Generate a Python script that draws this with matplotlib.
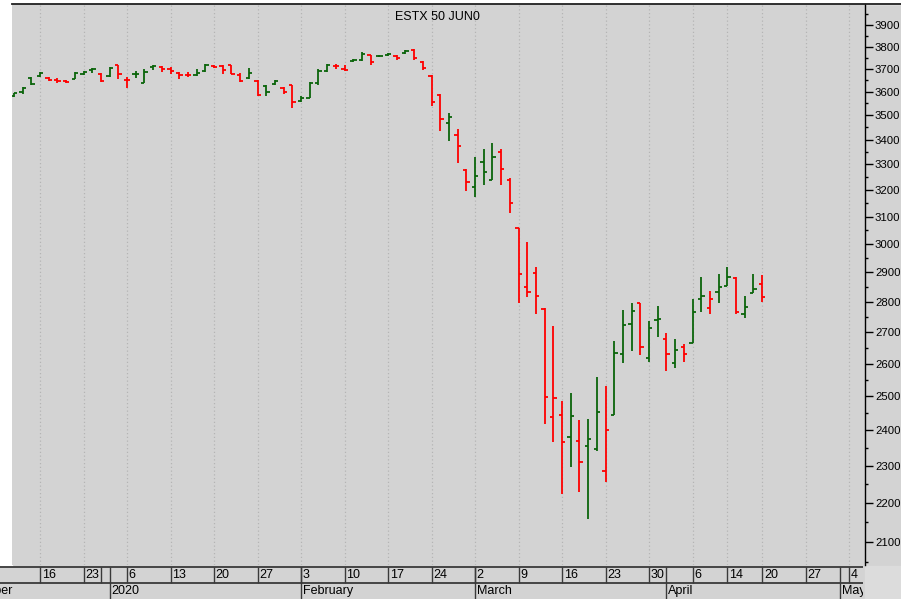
import numpy as np
import pandas as pd
import matplotlib
matplotlib.use('Agg')
import matplotlib.pyplot as plt
from matplotlib.patches import Rectangle
from matplotlib.lines import Line2D
from matplotlib.ticker import FixedLocator, FixedFormatter, NullFormatter

plt.rcParams['font.family'] = ['Liberation Sans', 'DejaVu Sans']

title = 'ESTX 50 JUN0'

# trading calendar of the time axis (Eurex holidays taken out)
holidays = ['2019-12-24', '2019-12-25', '2019-12-26', '2019-12-31',
            '2020-01-01', '2020-04-10', '2020-04-13']
calendar = pd.bdate_range('2019-12-02', '2020-05-08').drop(pd.to_datetime(holidays))

first_bar = '2019-12-11'

# daily OHLC
opens = [3582, 3598, 3660, 3668, 3661, 3650, 3645, 3657, 3678, 3695,
         3678, 3668, 3716, 3652, 3676, 3640, 3708, 3710, 3700, 3680,
         3675, 3672, 3692, 3712, 3714, 3716, 3675, 3659, 3648, 3627,
         3635, 3618, 3628, 3560, 3575, 3640, 3690, 3712, 3700, 3734,
         3738, 3760, 3756, 3763, 3758, 3770, 3786, 3730, 3670, 3588,
         3468, 3419, 3280, 3213, 3311, 3239, 3349, 3238, 3057, 2851,
         2898, 2775, 2440, 2446, 2381, 2370, 2356, 2347, 2286, 2446,
         2629, 2726, 2795, 2618, 2739, 2678, 2603, 2651, 2664, 2808,
         2778, 2833, 2854, 2880, 2760, 2830, 2859]
highs = [3596, 3622, 3663, 3685, 3663, 3659, 3651, 3685, 3691, 3703,
         3681, 3710, 3718, 3663, 3692, 3698, 3718, 3713, 3707, 3688,
         3685, 3698, 3722, 3718, 3718, 3718, 3681, 3703, 3651, 3630,
         3651, 3622, 3630, 3582, 3644, 3698, 3721, 3721, 3718, 3744,
         3777, 3762, 3762, 3770, 3762, 3785, 3788, 3735, 3673, 3591,
         3509, 3442, 3281, 3329, 3362, 3385, 3362, 3246, 3057, 3009,
         2920, 2778, 2720, 2486, 2511, 2430, 2433, 2559, 2531, 2671,
         2772, 2797, 2797, 2737, 2786, 2696, 2677, 2662, 2809, 2883,
         2837, 2895, 2920, 2883, 2819, 2895, 2891]
lows = [3579, 3591, 3630, 3663, 3648, 3640, 3637, 3654, 3673, 3681,
        3644, 3666, 3654, 3615, 3659, 3637, 3695, 3685, 3678, 3654,
        3664, 3669, 3688, 3703, 3676, 3676, 3644, 3654, 3583, 3583,
        3630, 3591, 3530, 3558, 3572, 3630, 3685, 3701, 3691, 3732,
        3735, 3718, 3752, 3759, 3740, 3767, 3740, 3695, 3541, 3436,
        3394, 3305, 3197, 3173, 3220, 3239, 3220, 3113, 2795, 2817,
        2759, 2418, 2366, 2223, 2296, 2229, 2158, 2343, 2257, 2445,
        2601, 2640, 2627, 2604, 2683, 2578, 2585, 2604, 2664, 2766,
        2759, 2795, 2853, 2759, 2745, 2828, 2800]
closes = [3594, 3618, 3634, 3682, 3652, 3645, 3642, 3682, 3688, 3700,
          3646, 3706, 3676, 3650, 3678, 3686, 3712, 3700, 3692, 3675,
          3672, 3680, 3716, 3710, 3695, 3678, 3648, 3683, 3586, 3600,
          3645, 3600, 3556, 3575, 3640, 3690, 3718, 3711, 3696, 3740,
          3768, 3730, 3758, 3766, 3748, 3780, 3750, 3702, 3558, 3485,
          3495, 3374, 3230, 3254, 3271, 3329, 3282, 3150, 2893, 2833,
          2819, 2497, 2494, 2367, 2443, 2312, 2376, 2454, 2401, 2632,
          2722, 2770, 2652, 2712, 2743, 2629, 2643, 2629, 2767, 2819,
          2808, 2851, 2883, 2767, 2783, 2842, 2815]

month_names = ['December', '2020', 'February', 'March', 'April', 'May']

y_major = list(range(2100, 4000, 100))
y_minor = list(range(2050, 4000, 100))

W, H = 901, 599
fig = plt.figure(figsize=(W / 100, H / 100), dpi=100)
fig.patch.set_facecolor('#d3d3d3')

# white margin on the left and top, lighter corner bottom right
fig.add_artist(Rectangle((0, 34 / H), 12 / W, 1, transform=fig.transFigure,
                         color='white', zorder=-1))
fig.add_artist(Rectangle((0, 1 - 4 / H), 1, 4 / H, transform=fig.transFigure,
                         color='white', zorder=-1))
fig.add_artist(Rectangle((865 / W, 0), 36 / W, 33 / H, transform=fig.transFigure,
                         color='#dcdcdc', zorder=-1))

ax = fig.add_axes([12 / W, 34 / H, 853 / W, 561 / H])
ax.set_facecolor('#d3d3d3')

pos = {d: i for i, d in enumerate(calendar)}
bar_dates = calendar[calendar >= pd.Timestamp(first_bar)][:len(opens)]
x = np.array([pos[d] for d in bar_dates], dtype=float)
o = np.array(opens); h = np.array(highs); l = np.array(lows); c = np.array(closes)
prev = np.concatenate([[o[0]], c[:-1]])
cols = np.where(c >= prev, '#0b650b', '#ff0000')

lw = 1.3
ax.vlines(x, l, h, colors=cols, lw=lw)
ax.hlines(o, x - 0.38, x, colors=cols, lw=lw)
ax.hlines(c, x, x + 0.38, colors=cols, lw=lw)

x_left = pos[pd.Timestamp(first_bar)] - 0.22
x_right = x_left + 853 / 8.7

# week starts and month starts
cal = pd.Series(np.arange(len(calendar)), index=calendar)
iso = calendar.isocalendar()
week_first = cal.groupby([iso.year.values, iso.week.values]).min().values
month_first = cal.groupby([calendar.year, calendar.month]).min().values
week_first = [w for w in week_first if w >= x_left]
week_labeled = [w for w in week_first
                if not any(0 < m - w < 2 for m in month_first)]

ax.set_xticks(week_labeled)
ax.tick_params(axis='x', length=0, labelbottom=False)
ax.grid(axis='x', linestyle=(0, (1, 2)), color='#b4b4b4', lw=0.9)
ax.set_axisbelow(True)
ax.set_xlim(x_left, x_right)

ax.set_yscale('log')
ax.set_ylim(2043, 3999)
ax.yaxis.tick_right()
ax.yaxis.set_major_locator(FixedLocator(y_major))
ax.yaxis.set_major_formatter(FixedFormatter([str(v) for v in y_major]))
ax.yaxis.set_minor_locator(FixedLocator(y_minor))
ax.yaxis.set_minor_formatter(NullFormatter())
ax.tick_params(axis='y', which='major', length=5.4, width=1, pad=1.8,
               labelsize=8.2, colors='black')
ax.tick_params(axis='y', which='minor', length=2.3, width=1)
for s in ['left', 'bottom', 'top']:
    ax.spines[s].set_visible(False)
ax.spines['right'].set_linewidth(1)

fig.add_artist(Line2D([12 / W, 1], [1 - 4 / H, 1 - 4 / H], transform=fig.transFigure,
                      color='#202020', lw=1.3))

fig.text(437 / W, 1 - 17 / H, title, ha='center', va='center', fontsize=9)

# date panel under the chart
pps = 853 / (x_right - x_left)
dax = fig.add_axes([0, 0, 863 / W, 34 / H])
dax.set_facecolor('#d3d3d3')
dax.set_xlim(x_left - 12 / pps, x_left + (863 - 12) / pps)
dax.set_ylim(0, 1)
dax.axis('off')
line_col = '#3a3a3a'
y_top, y_mid = 32 / 34, 16 / 34
dax.axhline(y_top, color=line_col, lw=1.3)
dax.axhline(y_mid, color=line_col, lw=1.3)
dax.vlines(week_first, y_mid, y_top, colors=line_col, lw=1)
dax.vlines(month_first, 0, y_top, colors=line_col, lw=1)
for w in week_labeled:
    dax.text(w + 0.2, (y_top + y_mid) / 2, str(calendar[w].day), ha='left',
             va='center', fontsize=9, clip_on=True)
for m, name in zip(month_first, month_names):
    dax.text(m + 0.2, y_mid / 2, name, ha='left', va='center', fontsize=9,
             clip_on=True)

fig.savefig('out.png', dpi=100)
